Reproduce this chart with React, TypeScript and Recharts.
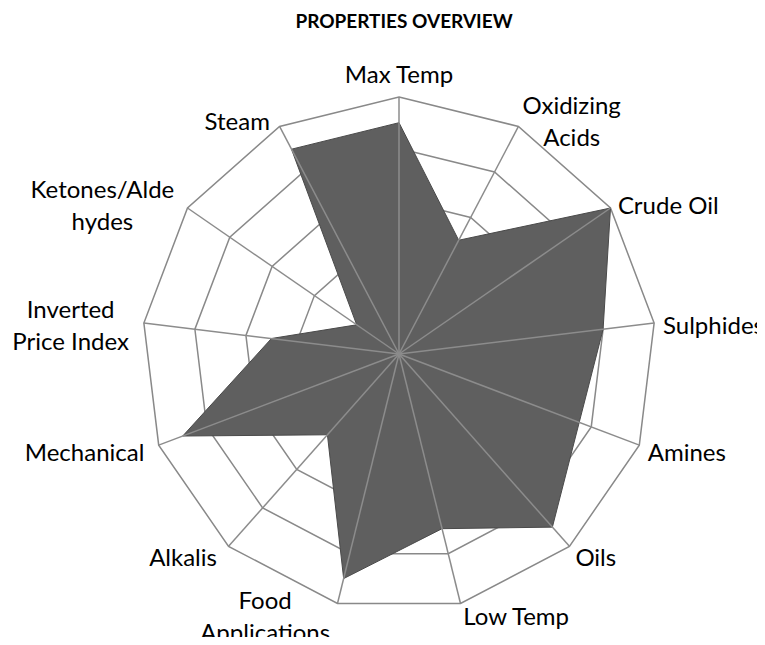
import { RadarChart, PolarGrid, PolarAngleAxis, PolarRadiusAxis, Radar } from "recharts";

const categories = [
    "Max Temp",
    "Oxidizing Acids",
    "Crude Oil",
    "Sulphides",
    "Amines",
    "Oils",
    "Low Temp",
    "Food Applications",
    "Alkalis",
    "Mechanical",
    "Inverted Price Index",
    "Ketones/Aldehydes",
    "Steam",
];

// how the labels wrap in the original
const labelLines: string[][] = [
    ["Max Temp"],
    ["Oxidizing", "Acids"],
    ["Crude Oil"],
    ["Sulphides"],
    ["Amines"],
    ["Oils"],
    ["Low Temp"],
    ["Food", "Applications"],
    ["Alkalis"],
    ["Mechanical"],
    ["Inverted", "Price Index"],
    ["Ketones/Alde", "hydes"],
    ["Steam"],
];

const scores = [90, 50, 100, 80, 75, 90, 70, 90, 42, 90, 50, 20, 90];

const radiusTicks = [0, 20, 40, 60, 80, 100];

const data = categories.map((c, i) => ({ name: c, score: scores[i] }));

const W = 765;
const H = 645;
const CX = 399;
const CY = 354;
const R = 257;
const FONT = "Lato, 'Open Sans', sans-serif";
const FS = 24;

let ctx: CanvasRenderingContext2D | null = null;
function textWidth(s: string) {
    if (!ctx) ctx = document.createElement("canvas").getContext("2d");
    if (!ctx) return s.length * FS * 0.5;
    ctx.font = `${FS}px ${FONT}`;
    return ctx.measureText(s).width;
}

// label plus the spoke, so the spoke sits on top of the filled area like in the original
function AxisLabel(props: any) {
    const { x, y, payload } = props;
    const idx = categories.indexOf(payload.value);
    const lines = labelLines[idx] || [String(payload.value)];
    const dx = x - CX;
    const dy = y - CY;
    const d = Math.hypot(dx, dy) || 1;
    const ux = dx / d;
    const uy = dy / d;
    const vx = CX + ux * R;
    const vy = CY + uy * R;
    const lh = 32;
    const blockW = Math.max(...lines.map(textWidth));
    let centerX = vx;
    let firstBase = 0;
    if (Math.abs(ux) < 0.1) {
        if (uy < 0) {
            firstBase = vy - 14 - (lines.length - 1) * lh;
        } else {
            firstBase = vy + 30;
        }
    } else {
        const gap = ux > 0 ? 9 * Math.abs(ux) : 5 + 10 * Math.abs(ux);
        centerX = ux > 0 ? vx + gap + blockW / 2 : vx - gap - blockW / 2;
        const mid = vy + 4 + uy * 10;
        firstBase = mid + 8 - ((lines.length - 1) * lh) / 2;
    }
    return (
        <g>
            <line x1={CX} y1={CY} x2={vx} y2={vy} stroke="#8c8c8c" strokeWidth={1.5} />
            <text x={centerX} y={firstBase} textAnchor="middle" fill="#000" fontSize={FS} fontFamily={FONT}>
                {lines.map((l, i) => (
                    <tspan key={i} x={centerX} y={firstBase + i * lh}>{l}</tspan>
                ))}
            </text>
        </g>
    );
}

export default function App() {
    return (
        <div style={{ position: "relative", width: W, height: H, margin: -8, background: "#fff", overflow: "hidden" }}>
            <div style={{
                position: "absolute", top: 9, left: 0, width: 808, textAlign: "center",
                fontFamily: FONT, fontWeight: 700, fontSize: 19, color: "#000",
            }}>
                PROPERTIES OVERVIEW
            </div>
            <RadarChart width={W} height={H} data={data} cx={CX} cy={CY} outerRadius={R}
                margin={{ top: 0, right: 0, bottom: 0, left: 0 }}>
                <PolarGrid gridType="polygon" radialLines={false} stroke="#898989" strokeWidth={1.5} />
                <PolarRadiusAxis domain={[0, 100]} ticks={radiusTicks as any} tickCount={6}
                    axisLine={false} tick={false} />
                <Radar dataKey="score" fill="#5f5f5f" fillOpacity={1} stroke="#4a4a4a" strokeWidth={1}
                    isAnimationActive={false} dot={false} />
                <PolarAngleAxis dataKey="name" tick={<AxisLabel />} tickLine={false} axisLine={false} />
            </RadarChart>
        </div>
    );
}
